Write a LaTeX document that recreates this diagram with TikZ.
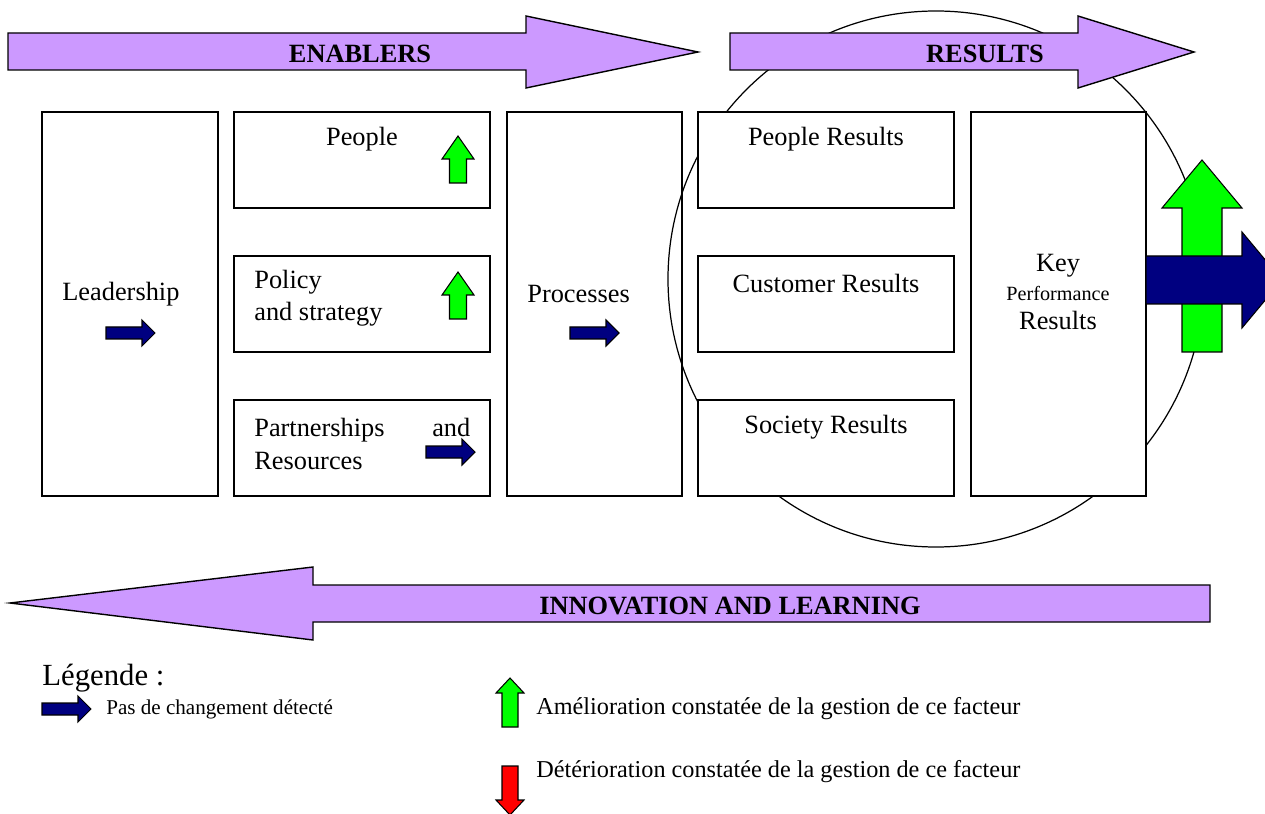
\documentclass[tikz,border=0pt]{standalone}
\usepackage{fontspec}
\setmainfont{Liberation Serif}
\usetikzlibrary{calc}
\usetikzlibrary{positioning}

\definecolor{lilac}{RGB}{204,153,255}
\definecolor{navyblue}{RGB}{0,0,128}
\definecolor{brightgreen}{RGB}{0,255,0}

\tikzset{
  box/.style={draw, fill=white, line width=.8pt, inner sep=0pt},
  colbox/.style={box, minimum width=176*0.02cm, minimum height=384*0.02cm},
  cellbox/.style={box, minimum width=256*0.02cm, minimum height=96*0.02cm},
  bigarrow/.style={draw, fill=lilac, line width=.8pt, line join=miter},
  txt/.style={inner sep=0pt, font=\fontsize{15}{18.5}\selectfont},
  head/.style={inner sep=0pt, font=\fontsize{15}{18}\selectfont\bfseries},
  legtxt/.style={inner sep=0pt, font=\fontsize{13.8}{16}\selectfont}
}

\begin{document}
\begin{tikzpicture}[x=0.02cm, y=-0.02cm]
\useasboundingbox (0,0) rectangle (1265,814);

% the enabler boxes
\node[colbox] (lead) at (130,304) {};
\node[cellbox] (ppl) at (362,160) {};
\node[cellbox] (pol) at (362,304) {};
\node[cellbox] (part) at (362,448) {};
\node[colbox, minimum width=175*0.02cm] (proc) at (594.5,304) {};

% circle round the results
\draw[line width=.7pt] (936,279) circle [radius=268*0.02cm];

% the result boxes
\node[cellbox] (pplres) at (826,160) {};
\node[cellbox] (custres) at (826,304) {};
\node[cellbox] (socres) at (826,448) {};
\node[colbox, minimum width=175*0.02cm] (kpr) at (1058.5,304) {};

% big lilac arrows
\draw[bigarrow] (8,33) -- (526,33) -- (526,16) -- (698,52) -- (526,88) -- (526,70) -- (8,70) -- cycle;
\draw[bigarrow] (730,33) -- (1078,33) -- (1078,16) -- (1194,52) -- (1078,88) -- (1078,70) -- (730,70) -- cycle;
\draw[bigarrow] (1210,585) -- (313,585) -- (313,567) -- (10,603) -- (313,640) -- (313,622) -- (1210,622) -- cycle;
\node[head] (enab) at (360,54) {ENABLERS};
\node[head] (res) at (985,54) {RESULTS};
\node[head] (innov) at (730,606) {INNOVATION AND LEARNING};

% green up arrows
\foreach \x/\y in {458/136, 458/272}
  \filldraw[draw=black, fill=brightgreen, line width=.6pt] (\x,\y) --++(16,23) --++(-7.5,0) --++(0,24) --++(-17,0) --++(0,-24) --++(-7.5,0) -- cycle;
\filldraw[draw=black, fill=brightgreen, line width=.6pt] (1202,160) --++(40,48) --++(-20,0) --++(0,144) --++(-40,0) --++(0,-144) --++(-20,0) -- cycle;

% navy right arrows
\foreach \x/\y in {106/333, 570/333, 426/452, 42/709}
  \filldraw[draw=black, fill=navyblue, line width=.6pt] (\x,\y-6) --++(36,0) --++(0,-7) --++(13,13) --++(-13,13) --++(0,-7) --++(-36,0) -- cycle;
\filldraw[draw=black, fill=navyblue, line width=.6pt] (1146,256) --++(96,0) --++(0,-24) --++(40,48) --++(-40,48) --++(0,-24) --++(-96,0) -- cycle;

% texts in the boxes
\node[txt, anchor=west] (leadtxt) at (62,294) {Leadership};
\node[txt] (ppltxt) at (362,139) {People};
\node[txt, anchor=west, align=left] (poltxt) at (254,298) {Policy\\and strategy};
\node[txt, anchor=west, align=left, text width=216*0.02cm] (parttxt) at (254,444) {Partnerships\hfill and\\Resources};
\node[txt, anchor=west] (proctxt) at (527,294) {Processes};
\node[txt] (pplrestxt) at (826,139) {People Results};
\node[txt] (custrestxt) at (826,283) {Customer Results};
\node[txt] (socrestxt) at (826,427) {Society Results};
\node[txt, align=center, font=\fontsize{15}{16.5}\selectfont] (kprtxt) at (1058,292) {Key\\{\fontsize{11.5}{16.5}\selectfont Performance}\\Results};

% legend
\node[inner sep=0pt, anchor=west, font=\fontsize{17.5}{20}\selectfont] (leg) at (42,678) {Légende :};
\node[inner sep=0pt, anchor=west, font=\fontsize{12}{14}\selectfont] (legsame) at (106,709) {Pas de changement détecté};
\filldraw[draw=black, fill=brightgreen, line width=.6pt] (510,678) --++(14,15) --++(-6,0) --++(0,34) --++(-16,0) --++(0,-34) --++(-6,0) -- cycle;
\node[legtxt, anchor=west] (legup) at (536,709) {Amélioration constatée de la gestion de ce facteur};
\filldraw[draw=black, fill=red, line width=.6pt] (510,815) --++(14,-15) --++(-6,0) --++(0,-34) --++(-16,0) --++(0,34) --++(-6,0) -- cycle;
\node[legtxt, anchor=west] (legdown) at (536,772) {Détérioration constatée de la gestion de ce facteur};

\end{tikzpicture}
\end{document}
